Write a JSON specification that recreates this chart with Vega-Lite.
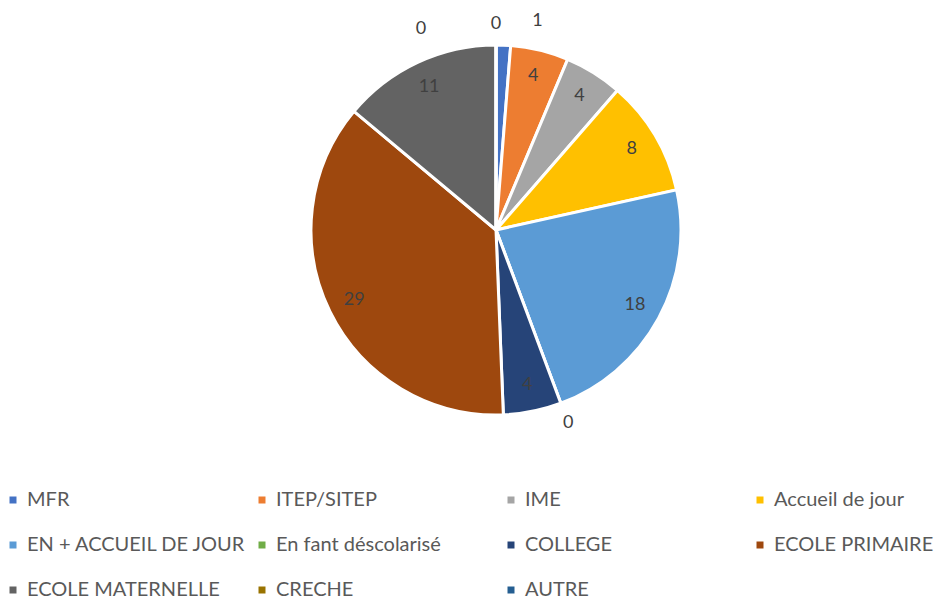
{
  "$schema": "https://vega.github.io/schema/vega-lite/v6.json",
  "width": 890,
  "height": 460,
  "autosize": {"type": "none"},
  "padding": {"left": 51, "top": 0, "right": 0, "bottom": 141},
  "background": "white",
  "config": {"view": {"stroke": null}, "font": "Lato"},
  "data": {
    "values": [
      {"i": 1, "cat": "MFR", "n": 1},
      {"i": 2, "cat": "ITEP/SITEP", "n": 4},
      {"i": 3, "cat": "IME", "n": 4},
      {"i": 4, "cat": "Accueil de jour", "n": 8},
      {"i": 5, "cat": "EN + ACCUEIL DE JOUR", "n": 18},
      {"i": 6, "cat": "En fant déscolarisé", "n": 0},
      {"i": 7, "cat": "COLLEGE", "n": 4},
      {"i": 8, "cat": "ECOLE PRIMAIRE", "n": 29},
      {"i": 9, "cat": "ECOLE MATERNELLE", "n": 11},
      {"i": 10, "cat": "CRECHE", "n": 0},
      {"i": 11, "cat": "AUTRE", "n": 0}
    ]
  },
  "encoding": {
    "theta": {"field": "n", "type": "quantitative", "stack": true},
    "order": {"field": "i", "type": "quantitative"}
  },
  "layer": [
    {
      "mark": {"type": "arc", "outerRadius": 185, "stroke": "white", "strokeWidth": 3},
      "encoding": {
        "color": {
          "field": "cat",
          "type": "nominal",
          "sort": null,
          "scale": {
            "domain": ["MFR", "ITEP/SITEP", "IME", "Accueil de jour", "EN + ACCUEIL DE JOUR", "En fant déscolarisé", "COLLEGE", "ECOLE PRIMAIRE", "ECOLE MATERNELLE", "CRECHE", "AUTRE"],
            "range": ["#4472C4", "#ED7D31", "#A5A5A5", "#FFC000", "#5B9BD5", "#70AD47", "#264478", "#9E480E", "#636363", "#997300", "#255E91"]
          },
          "legend": {
            "title": null,
            "orient": "none",
            "legendX": -48,
            "legendY": 490,
            "padding": 0,
            "direction": "horizontal",
            "columns": 4,
            "gridAlign": "all",
            "columnPadding": 5,
            "rowPadding": 25,
            "symbolType": "square",
            "symbolSize": 49,
            "symbolStrokeWidth": 0,
            "labelFontSize": 20,
            "labelColor": "#595959",
            "labelFont": "Lato",
            "labelLimit": 400,
            "labelOffset": 4
          }
        }
      }
    },
    {
      "mark": {"type": "text", "radius": 158, "fontSize": 18, "color": "#404040"},
      "encoding": {"text": {"condition": {"test": "datum.n >= 2", "field": "n", "type": "quantitative"}, "value": ""}}
    },
    {
      "mark": {"type": "text", "radius": 212, "dx": 33, "dy": 3, "fontSize": 18, "color": "#404040"},
      "encoding": {"text": {"condition": {"test": "datum.cat == 'MFR'", "field": "n", "type": "quantitative"}, "value": ""}}
    },
    {
      "mark": {"type": "text", "radius": 206, "fontSize": 18, "color": "#404040"},
      "encoding": {"text": {"condition": {"test": "datum.cat == 'AUTRE' || datum.i == 6", "field": "n", "type": "quantitative"}, "value": ""}}
    },
    {
      "mark": {"type": "text", "radius": 204, "dx": -75, "dy": 3, "fontSize": 18, "color": "#404040"},
      "encoding": {"text": {"condition": {"test": "datum.cat == 'CRECHE'", "field": "n", "type": "quantitative"}, "value": ""}}
    }
  ]
}
